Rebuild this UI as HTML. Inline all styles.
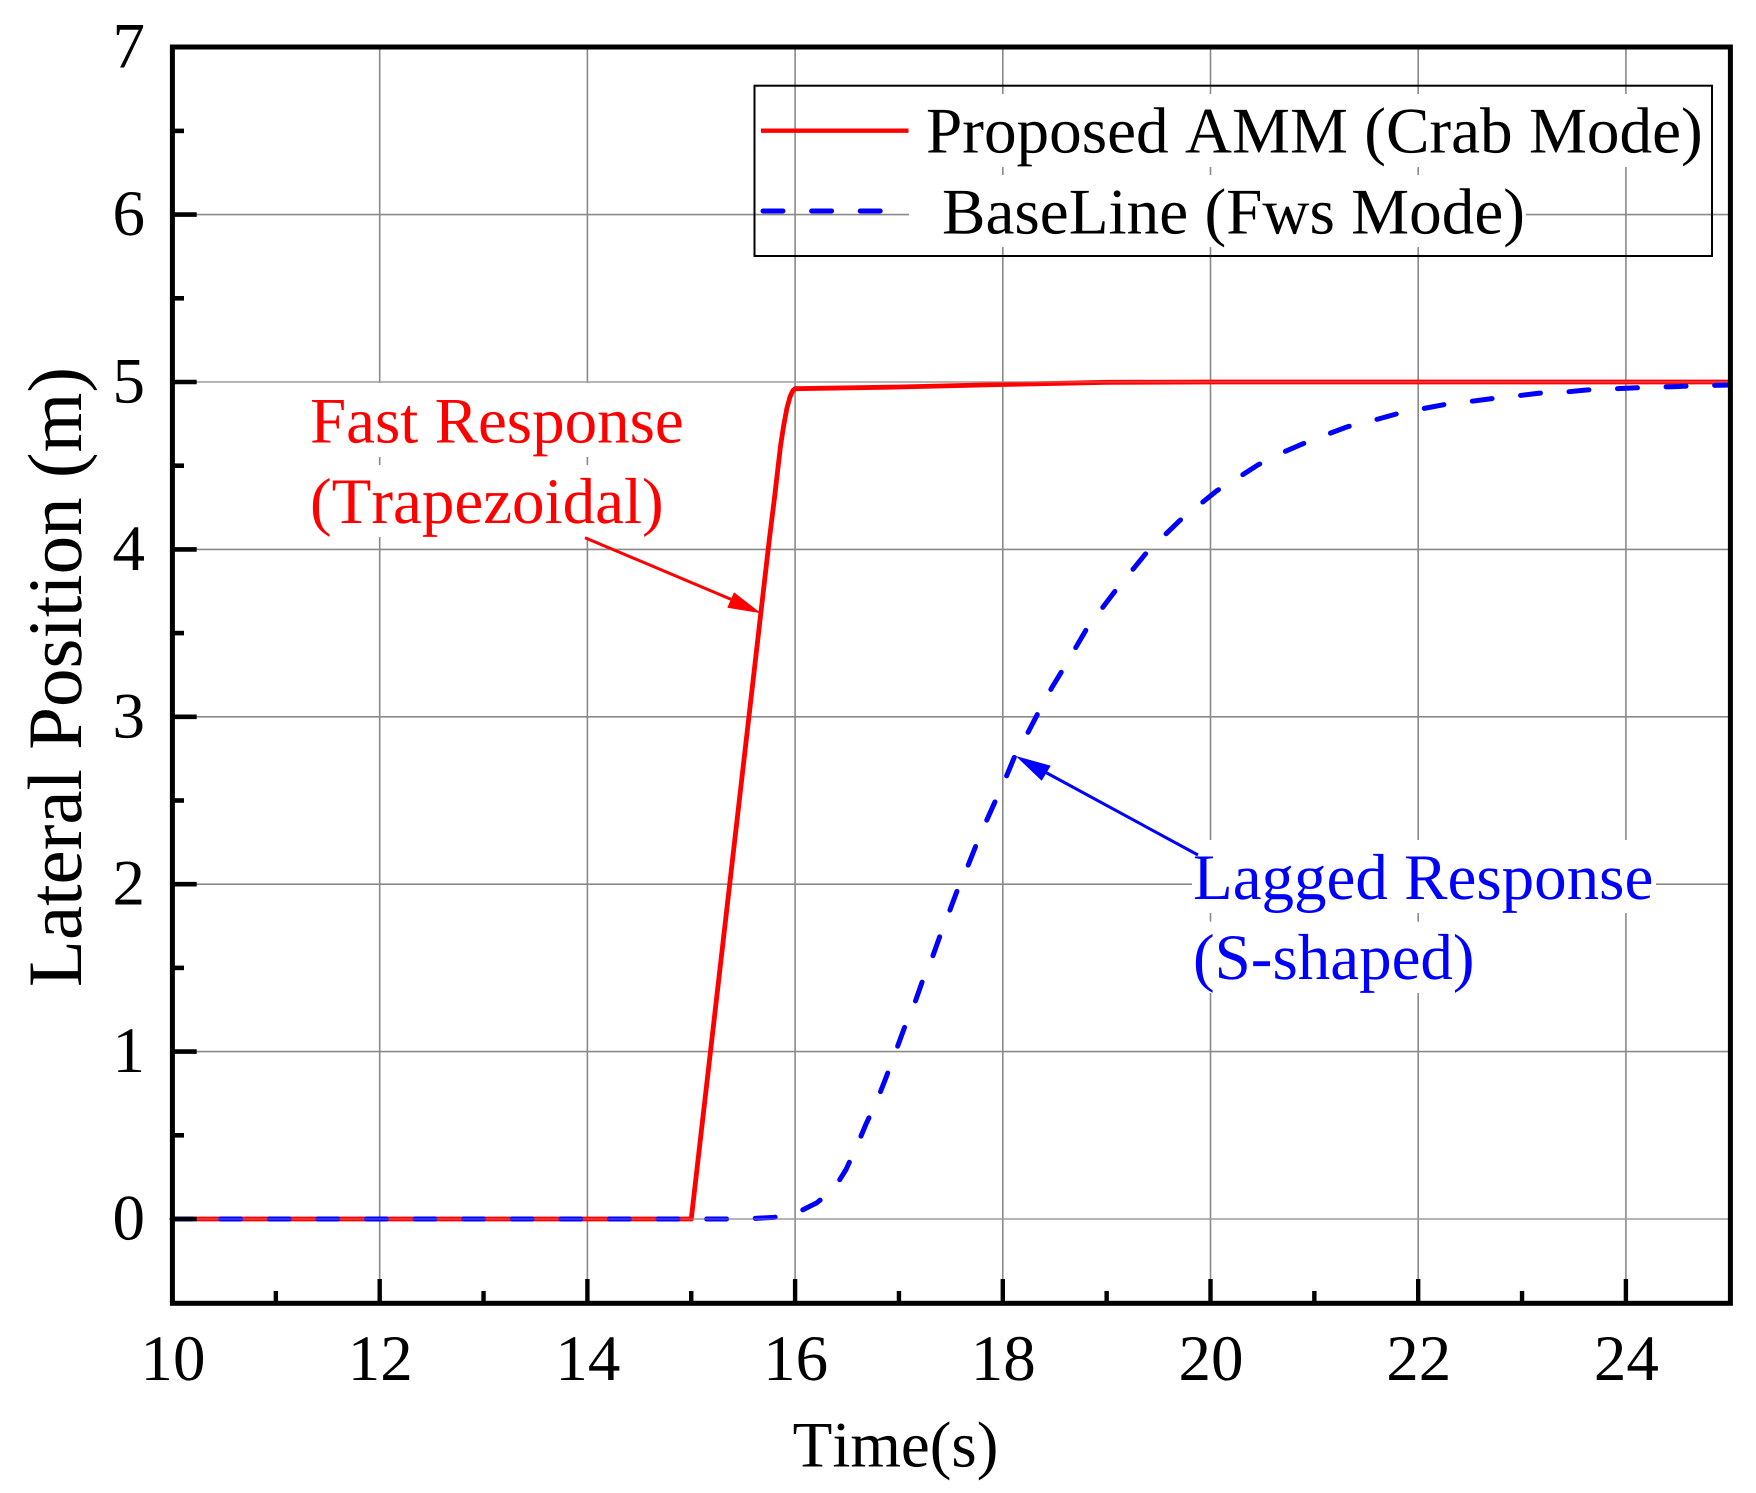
<!DOCTYPE html>
<html lang="en">
<head>
<meta charset="utf-8">
<title>Lateral Position vs Time</title>
<style>
html,body{margin:0;padding:0;background:#fff;width:1756px;height:1493px;overflow:hidden}
svg{display:block}
text{font-family:"Liberation Serif",serif;font-kerning:none;text-rendering:geometricPrecision}
</style>
</head>
<body>
<svg id="chart" xmlns="http://www.w3.org/2000/svg" width="1756" height="1493" viewBox="0 0 1756 1493">
  <rect x="0" y="0" width="1756" height="1493" fill="#fff"/>
  <g id="grid"></g>
  <g id="series"></g>
  <g id="overlay"></g>
  <g id="ticks"></g>
  <rect x="172.4" y="47" width="1558" height="1256.3" fill="none" stroke="#000" stroke-width="5"/>
  <g id="tick-labels"></g>

  <text transform="translate(81 677) rotate(-90)" text-anchor="middle" font-size="77" fill="#000">Lateral Position (m)</text>
  <text x="895.5" y="1466.5" text-anchor="middle" font-size="65" fill="#000">Time(s)</text>

  <g>
    <rect x="909" y="94" width="795" height="73" fill="#fff"/>
    <rect x="909" y="175" width="617" height="72" fill="#fff"/>
    <rect x="754.5" y="85.7" width="957.5" height="170.3" fill="none" stroke="#000" stroke-width="2"/>
    <line x1="761" y1="130.7" x2="908.5" y2="130.7" stroke="#ff0000" stroke-width="4.4"/>
    <text x="926" y="152.3" font-size="65.2" fill="#000">Proposed AMM (Crab Mode)</text>
    <line x1="763" y1="211" x2="908" y2="211" stroke="#0000ff" stroke-width="5" stroke-linecap="round" stroke-dasharray="20 28.6"/>
    <text x="942" y="233.3" font-size="65.2" fill="#000">BaseLine (Fws Mode)</text>
  </g>

  <g>
    <rect x="305" y="383" width="383" height="74" fill="#fff"/>
    <rect x="305" y="465" width="362" height="72" fill="#fff"/>
    <text x="310" y="442.7" font-size="65" fill="#ff0000">Fast Response</text>
    <text x="310" y="523" font-size="65" fill="#ff0000">(Trapezoidal)</text>
    <line x1="585" y1="537.7" x2="735" y2="601" stroke="#ff0000" stroke-width="3"/>
    <polygon points="761,613.3 734,592.3 727.3,607.7" fill="#ff0000"/>
  </g>

  <g>
    <rect x="1192" y="840" width="464" height="73" fill="#fff"/>
    <rect x="1192" y="921.7" width="284" height="71.3" fill="#fff"/>
    <text x="1193" y="899" font-size="65" fill="#0000ff">Lagged Response</text>
    <text x="1193" y="979" font-size="65" fill="#0000ff">(S-shaped)</text>
    <line x1="1198" y1="855" x2="1045" y2="772" stroke="#0000ff" stroke-width="3"/>
    <polygon points="1015.7,756 1050.7,765.7 1041.7,780.7" fill="#0000ff"/>
  </g>
</svg>
<script>
const xMajorTicks = [10, 12, 14, 16, 18, 20, 22, 24];
const xMinorTicks = [11, 13, 15, 17, 19, 21, 23];
const yMajorTicks = [0, 1, 2, 3, 4, 5, 6, 7];
const yMinorTicks = [0.5, 1.5, 2.5, 3.5, 4.5, 5.5, 6.5];

const proposedTime = [10, 15, 15.67, 15.75, 15.8, 15.83, 15.86, 15.89, 15.92, 15.95, 15.98, 16, 17, 18, 19, 20, 25];
const proposedPos = [0, 0, 3.62, 4.05, 4.3, 4.46, 4.62, 4.74, 4.84, 4.91, 4.95, 4.96, 4.97, 4.985, 4.998, 5, 5];

const baselineTime = [10, 15, 15.5, 15.8, 16.06, 16.21, 16.38, 16.49, 16.6, 16.68, 16.79, 16.87, 16.96, 17.06, 17.16, 17.23, 17.33, 17.4, 17.49, 17.57, 17.67, 17.75, 17.85, 17.94, 18.04, 18.12, 18.25, 18.35, 18.47, 18.58, 18.7, 18.81, 18.96, 19.09, 19.24, 19.37, 19.55, 19.7, 19.88, 20.06, 20.28, 20.46, 20.7, 20.87, 21.11, 21.32, 21.57, 21.79, 22.03, 22.25, 22.49, 22.7, 22.95, 23.16, 23.4, 23.63, 23.88, 24.21, 24.45, 24.7, 25];
const baselinePos = [0, 0, 0, 0.01, 0.05, 0.097, 0.185, 0.295, 0.444, 0.563, 0.71, 0.836, 0.986, 1.155, 1.304, 1.428, 1.577, 1.7, 1.844, 1.977, 2.119, 2.244, 2.389, 2.513, 2.652, 2.772, 2.915, 3.035, 3.172, 3.284, 3.411, 3.528, 3.652, 3.758, 3.871, 3.97, 4.08, 4.17, 4.26, 4.35, 4.434, 4.506, 4.58, 4.626, 4.684, 4.733, 4.771, 4.809, 4.839, 4.865, 4.883, 4.9, 4.917, 4.933, 4.939, 4.953, 4.959, 4.968, 4.972, 4.978, 4.982];

const NS = 'http://www.w3.org/2000/svg';
function xS(v) { return 172 + (v - 10) * 103.85; }
function yS(v) { return 1219 - v * 167.4; }
function make(tag, attrs, parent) {
  const el = document.createElementNS(NS, tag);
  for (const k in attrs) el.setAttribute(k, attrs[k]);
  parent.appendChild(el);
  return el;
}
function pathFrom(xs, ys) {
  return xs.map(function (v, i) { return xS(v).toFixed(2) + ',' + yS(ys[i]).toFixed(2); }).join(' ');
}

const grid = document.getElementById('grid');
const series = document.getElementById('series');
const overlay = document.getElementById('overlay');
const ticks = document.getElementById('ticks');
const labels = document.getElementById('tick-labels');

xMajorTicks.slice(1).forEach(function (v) {
  const g = make('line', { x1: xS(v), x2: xS(v), y1: 47, y2: 1303, stroke: '#8a8a8a', 'stroke-width': 1.6 }, grid);
  
  
});
yMajorTicks.slice(0, -1).forEach(function (v) {
  const g = make('line', { x1: 172, x2: 1730, y1: yS(v), y2: yS(v), stroke: '#8a8a8a', 'stroke-width': 1.6 }, grid);
  
  
});

const proposedLine = make('polyline', { points: pathFrom(proposedTime, proposedPos), fill: 'none', stroke: '#ff0000', 'stroke-width': 4.8, 'stroke-linejoin': 'round' }, series);



const baselineLine = make('polyline', { points: pathFrom(baselineTime, baselinePos), fill: 'none', stroke: '#0000ff', 'stroke-width': 5, 'stroke-linejoin': 'round', 'stroke-linecap': 'round', 'stroke-dasharray': '20 28.6' }, series);



[0, 5].forEach(function (v) {
  const o = make('line', { x1: 172, x2: 1730, y1: yS(v), y2: yS(v), stroke: '#c8b8c0', 'stroke-width': 1, opacity: 0.55 }, overlay);
  
  
});

xMajorTicks.slice(1).forEach(function (v) {
  const t = make('line', { x1: xS(v), x2: xS(v), y1: 1279, y2: 1303, stroke: '#000', 'stroke-width': 4.4 }, ticks);
  
  
});
xMinorTicks.forEach(function (v) {
  const t = make('line', { x1: xS(v), x2: xS(v), y1: 1291, y2: 1303, stroke: '#000', 'stroke-width': 4.4 }, ticks);
  
  
});
yMajorTicks.slice(0, -1).forEach(function (v) {
  const t = make('line', { x1: 172, x2: 196.7, y1: yS(v), y2: yS(v), stroke: '#000', 'stroke-width': 4.6 }, ticks);
  
  
});
yMinorTicks.forEach(function (v) {
  const t = make('line', { x1: 172, x2: 184, y1: yS(v), y2: yS(v), stroke: '#000', 'stroke-width': 4.6 }, ticks);
  
  
});

xMajorTicks.forEach(function (v) {
  const t = make('text', { x: xS(v) + (v === 10 ? 1 : 0.5), y: 1380, 'text-anchor': 'middle', 'font-size': 65, fill: '#000' }, labels);
  
  
  t.textContent = String(v);
});
yMajorTicks.forEach(function (v) {
  const t = make('text', { x: 145, y: yS(v) + 20.5, 'text-anchor': 'end', 'font-size': 65, fill: '#000' }, labels);
  
  
  t.textContent = String(v);
});
</script>
</body>
</html>
